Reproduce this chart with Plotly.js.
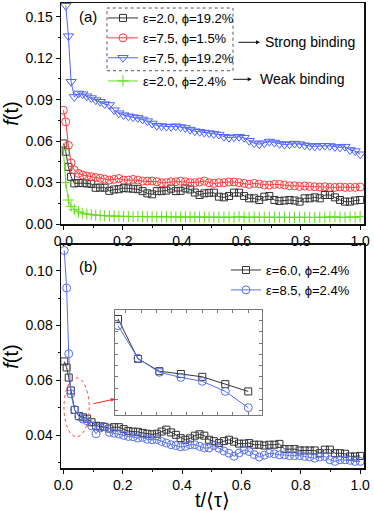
<!DOCTYPE html>
<html>
<head>
<meta charset="utf-8">
<script src="https://cdn.plot.ly/plotly-3.0.1.min.js"></script>
<style>
  html, body { margin: 0; padding: 0; background: #fff; }
  #chart-area { width: 374px; height: 511px; }
</style>
</head>
<body>
<div id="chart-area"></div>
<script>
'use strict';

// time axis, panel (a)
const tA = [0, 0.008, 0.017, 0.026, 0.037, 0.051, 0.065, 0.079, 0.094, 0.109,
    0.124, 0.139, 0.155, 0.171, 0.187, 0.203, 0.219, 0.235, 0.251, 0.267,
    0.283, 0.299, 0.315, 0.331, 0.347, 0.363, 0.379, 0.395, 0.411, 0.427,
    0.443, 0.459, 0.475, 0.491, 0.507, 0.524, 0.541, 0.558, 0.575, 0.592,
    0.609, 0.626, 0.643, 0.66, 0.677, 0.694, 0.711, 0.728, 0.745, 0.762,
    0.779, 0.796, 0.813, 0.83, 0.847, 0.864, 0.881, 0.898, 0.915, 0.932,
    0.949, 0.966, 0.983, 1.0];

// time axis, panel (b)
const tB = [0.003, 0.011, 0.018, 0.025, 0.038, 0.052, 0.066, 0.08, 0.095, 0.11,
    0.124, 0.139, 0.155, 0.171, 0.187, 0.203, 0.219, 0.235, 0.251, 0.267,
    0.283, 0.299, 0.315, 0.331, 0.347, 0.363, 0.379, 0.395, 0.411, 0.427,
    0.443, 0.459, 0.475, 0.491, 0.507, 0.524, 0.541, 0.558, 0.575, 0.592,
    0.609, 0.626, 0.643, 0.66, 0.677, 0.694, 0.711, 0.728, 0.745, 0.762,
    0.779, 0.796, 0.813, 0.83, 0.847, 0.864, 0.881, 0.898, 0.915, 0.932,
    0.949, 0.966, 0.983, 1.0];

const namesA = ["ε=2.0, ϕ=19.2%", "ε=7.5, ϕ=1.5%", "ε=7.5, ϕ=19.2%", "ε=2.0, ϕ=2.4%"];
const namesB = ["ε=6.0, ϕ=2.4%", "ε=8.5, ϕ=2.4%"];

const blkA = [0.0583, 0.0523, 0.0414, 0.0342, 0.0294, 0.0297, 0.0296, 0.0294, 0.029, 0.0262,
    0.0264, 0.0263, 0.024, 0.025, 0.0252, 0.026, 0.0258, 0.0255, 0.0252, 0.0238,
    0.0222, 0.0215, 0.0238, 0.0238, 0.0242, 0.0256, 0.0238, 0.024, 0.0258, 0.025,
    0.0228, 0.021, 0.0222, 0.0226, 0.0227, 0.0198, 0.0193, 0.0203, 0.0227, 0.0227,
    0.0203, 0.0186, 0.0186, 0.0174, 0.0198, 0.0203, 0.0174, 0.0167, 0.017, 0.0174,
    0.017, 0.0162, 0.0186, 0.0186, 0.0193, 0.0186, 0.021, 0.021, 0.0193, 0.0174,
    0.0162, 0.0162, 0.017, 0.0174];

const redA = [0.0824, 0.074, 0.057, 0.0443, 0.039, 0.0366, 0.0354, 0.0347, 0.0342, 0.0337,
    0.0332, 0.0325, 0.0318, 0.0323, 0.033, 0.0318, 0.0318, 0.0323, 0.0318, 0.0311,
    0.0311, 0.0311, 0.0306, 0.0299, 0.0299, 0.0306, 0.0306, 0.031, 0.0306, 0.0299,
    0.0299, 0.0304, 0.0311, 0.0299, 0.0294, 0.0299, 0.0299, 0.0304, 0.0304, 0.0299,
    0.0294, 0.0287, 0.0294, 0.029, 0.0282, 0.0282, 0.0287, 0.0287, 0.0282, 0.0277,
    0.0277, 0.0272, 0.0275, 0.0272, 0.027, 0.0268, 0.027, 0.0265, 0.0265, 0.0268,
    0.0265, 0.0265, 0.0265, 0.0268];

// starts at tA[1]
const bluA = [0.158, 0.136, 0.103, 0.092, 0.0945, 0.094, 0.0925, 0.0912, 0.0897,
    0.0885, 0.0868, 0.0862, 0.0824, 0.0802, 0.0788, 0.078, 0.0774, 0.0768, 0.0757,
    0.0745, 0.0728, 0.0712, 0.0709, 0.0705, 0.0704, 0.0708, 0.0702, 0.0695, 0.0683,
    0.0672, 0.0668, 0.0662, 0.0658, 0.0652, 0.0648, 0.0632, 0.0625, 0.0628, 0.0632,
    0.0624, 0.0603, 0.0585, 0.0578, 0.0585, 0.0597, 0.059, 0.058, 0.0575, 0.0578,
    0.0582, 0.0578, 0.057, 0.0565, 0.0562, 0.0566, 0.0567, 0.0565, 0.0558, 0.0555,
    0.056, 0.0536, 0.0528, 0.0505];

const grnA = [0.0535, 0.03, 0.0174, 0.0128, 0.0104, 0.0088, 0.0078, 0.0072, 0.0068, 0.0064,
    0.0062, 0.006, 0.0058, 0.0057, 0.0056, 0.0055, 0.0055, 0.0054, 0.0054, 0.0053,
    0.0053, 0.0053, 0.0052, 0.0053, 0.0052, 0.0052, 0.0051, 0.0052, 0.0051, 0.0051,
    0.005, 0.0051, 0.005, 0.005, 0.0049, 0.005, 0.0049, 0.005, 0.0049, 0.0053,
    0.0049, 0.0049, 0.005, 0.0049, 0.0048, 0.0049, 0.0049, 0.0048, 0.0049, 0.0049,
    0.0048, 0.0049, 0.0049, 0.0048, 0.0048, 0.0049, 0.0049, 0.0052, 0.0053, 0.0049,
    0.0048, 0.0052, 0.0049, 0.0054];

const blkB = [0.0669, 0.0647, 0.061, 0.0563, 0.0492, 0.047, 0.0465, 0.046, 0.0447, 0.0434,
    0.0432, 0.043, 0.0424, 0.0429, 0.0429, 0.0422, 0.0415, 0.0413, 0.0412, 0.0408,
    0.0405, 0.0403, 0.0405, 0.0413, 0.042, 0.041, 0.0401, 0.0389, 0.0383, 0.0388,
    0.0398, 0.0403, 0.0398, 0.0383, 0.0378, 0.0371, 0.0378, 0.0383, 0.0376, 0.0369,
    0.0369, 0.0371, 0.0365, 0.0365, 0.0362, 0.0365, 0.0365, 0.0368, 0.0349, 0.0349,
    0.0349, 0.0344, 0.0344, 0.0344, 0.0344, 0.0334, 0.0347, 0.0347, 0.0334, 0.0334,
    0.0332, 0.0322, 0.0322, 0.0324];

const bluB = [0.1074, 0.0937, 0.0697, 0.0551, 0.0493, 0.0468, 0.0459, 0.0452, 0.0434, 0.0405,
    0.0426, 0.0431, 0.041, 0.0407, 0.0404, 0.0399, 0.0395, 0.0394, 0.0389, 0.0392,
    0.0385, 0.0383, 0.0384, 0.0377, 0.0371, 0.0365, 0.0362, 0.0357, 0.0359, 0.0365,
    0.0365, 0.0359, 0.0353, 0.0353, 0.0362, 0.0352, 0.0342, 0.0334, 0.0323, 0.0335,
    0.0346, 0.034, 0.0329, 0.032, 0.0327, 0.0334, 0.0332, 0.0328, 0.0328, 0.0325,
    0.0325, 0.0325, 0.0322, 0.032, 0.0316, 0.032, 0.0322, 0.031, 0.0304, 0.031,
    0.031, 0.0308, 0.0304, 0.0304];

const FONT = "Liberation Sans, Arial, sans-serif";
const INSET = [3, 10]; // points of panel (b) shown in the inset

function series(x, y, name, color, symbol, size, xa, ya, legend, show) {
    return {
        x: x, y: y, name: name,
        type: "scatter", mode: "lines+markers",
        xaxis: xa, yaxis: ya,
        legend: legend, showlegend: show,
        line: { color: color, width: 1 },
        marker: { symbol: symbol, size: size, color: color, line: { color: color, width: 1 } },
        cliponaxis: true,
    };
}

function main_axis(extra) {
    return Object.assign({
        showline: true, linecolor: "#111", linewidth: 1.5, mirror: true,
        ticks: "outside", ticklen: 4, tickwidth: 1, tickcolor: "#111",
        showgrid: false, zeroline: false,
        tickfont: { family: FONT, size: 14, color: "#000" },
    }, extra);
}

function inner_ticks(extra) {
    return Object.assign({
        ticks: "inside", ticklen: 4, tickwidth: 1, tickcolor: "#111",
        showticklabels: false, showgrid: false, zeroline: false, showline: false,
    }, extra);
}

function render() {
    const s = INSET[0], e = INSET[1];
    let data = [
        series(tA, blkA, namesA[0], "#333333", "square-open", 7, "x", "y", "legend", true),
        series(tA, redA, namesA[1], "#ff3b3b", "circle-open", 8, "x", "y", "legend", true),
        series(tA.slice(1), bluA, namesA[2], "#4f63ff", "triangle-down-open", 9, "x", "y", "legend", true),
        series(tA, grnA, namesA[3], "#66dd22", "cross-thin-open", 8, "x", "y", "legend2", true),
        series(tB, blkB, namesB[0], "#333333", "square-open", 7, "x2", "y2", "legend3", true),
        series(tB, bluB, namesB[1], "#5870f0", "circle-open", 8, "x2", "y2", "legend3", true),
        series(tB.slice(s, e), blkB.slice(s, e), namesB[0], "#333333", "square-open", 7, "x3", "y3", "legend3", false),
        series(tB.slice(s, e), bluB.slice(s, e), namesB[1], "#5870f0", "circle-open", 8, "x3", "y3", "legend3", false),
    ];

    const xr = [-0.008, 1.013];
    const legend_font = { family: FONT, size: 13, color: "#000" };
    const title_font = { family: FONT, size: 20, color: "#000" };

    let layout = {
        width: 374, height: 511,
        margin: { l: 61, r: 10, t: 3, b: 43 },
        paper_bgcolor: "#fff", plot_bgcolor: "rgba(0,0,0,0)",
        font: { family: FONT, size: 14, color: "#000" },
        xaxis: main_axis({ anchor: "y", range: xr, dtick: 0.2, tick0: 0, tickformat: ".1f",
            minor: { dtick: 0.1, ticklen: 2, ticks: "outside", tickcolor: "#111" } }),
        yaxis: main_axis({ anchor: "x", domain: [0.5247, 1], range: [0, 0.16], dtick: 0.03, tick0: 0,
            tickformat: ".2f", minor: { dtick: 0.015, ticklen: 2, ticks: "outside", tickcolor: "#111" },
            title: { text: "<i>f</i>(t)", font: title_font, standoff: 5 } }),
        xaxis2: main_axis({ anchor: "y2", range: xr, dtick: 0.2, tick0: 0, tickformat: ".1f",
            minor: { dtick: 0.1, ticklen: 2, ticks: "outside", tickcolor: "#111" },
            title: { text: "t/⟨τ⟩", font: title_font, standoff: 9 } }),
        yaxis2: main_axis({ anchor: "x2", domain: [0, 0.4796], range: [0.028, 0.1094], dtick: 0.02, tick0: 0,
            tickformat: ".2f", minor: { dtick: 0.01, ticklen: 2, ticks: "outside", tickcolor: "#111" },
            title: { text: "<i>f</i>(t)", font: title_font, standoff: 5 } }),
        // inset
        xaxis3: { anchor: "y3", domain: [0.1782, 0.6634], range: [0.023, 0.119], dtick: 0.01,
            showline: true, mirror: "ticks", linecolor: "#777", linewidth: 1,
            ticks: "inside", ticklen: 3, tickcolor: "#777", showticklabels: false,
            showgrid: false, zeroline: false },
        yaxis3: { anchor: "x3", domain: [0.114, 0.3398], range: [0.0392, 0.0579], dtick: 0.002,
            showline: true, mirror: "ticks", linecolor: "#777", linewidth: 1,
            ticks: "inside", ticklen: 3, tickcolor: "#777", showticklabels: false,
            showgrid: false, zeroline: false },
        // inward ticks on top / right edges
        xaxis4: inner_ticks({ overlaying: "x", anchor: "y", side: "top", range: xr, dtick: 0.1, tick0: 0 }),
        yaxis4: inner_ticks({ overlaying: "y", anchor: "x", side: "right", range: [0, 0.16], dtick: 0.015, tick0: 0 }),
        xaxis5: inner_ticks({ overlaying: "x2", anchor: "y2", side: "top", range: xr, dtick: 0.1, tick0: 0 }),
        yaxis5: inner_ticks({ overlaying: "y2", anchor: "x2", side: "right", range: [0.028, 0.1094], dtick: 0.01, tick0: 0 }),
        legend: { x: 0.1386, y: 1.0, xanchor: "left", yanchor: "top", bgcolor: "rgba(0,0,0,0)",
            font: legend_font, itemwidth: 30, tracegroupgap: 0 },
        legend2: { x: 0.1386, y: 0.8645, xanchor: "left", yanchor: "top", bgcolor: "rgba(0,0,0,0)",
            font: legend_font, itemwidth: 30 },
        legend3: { x: 0.5446, y: 0.458, xanchor: "left", yanchor: "top", bgcolor: "rgba(0,0,0,0)",
            font: legend_font, itemwidth: 30 },
        shapes: [
            { type: "rect", xref: "paper", yref: "paper", x0: 0.1518, x1: 0.5677, y0: 0.8544, y1: 0.9892,
                line: { color: "#555", width: 1, dash: "dot" } },
            { type: "circle", xref: "x2", yref: "y2", x0: 0.002, x1: 0.087, y0: 0.0394, y1: 0.0609,
                line: { color: "#ff4040", width: 1, dash: "dot" } },
        ],
        annotations: [
            { xref: "paper", yref: "paper", x: 0.0528, y: 0.972, xanchor: "left", yanchor: "middle",
                text: "(a)", showarrow: false, font: { family: FONT, size: 15 } },
            { xref: "paper", yref: "paper", x: 0.0528, y: 0.4344, xanchor: "left", yanchor: "middle",
                text: "(b)", showarrow: false, font: { family: FONT, size: 15 } },
            { xref: "paper", yref: "paper", x: 0.6568, y: 0.9155, ax: -23, ay: 0, text: "",
                showarrow: true, arrowhead: 2, arrowsize: 0.8, arrowwidth: 1, arrowcolor: "#111" },
            { xref: "paper", yref: "paper", x: 0.6667, y: 0.9155, xanchor: "left", yanchor: "middle",
                text: "Strong binding", showarrow: false, font: { family: FONT, size: 14 } },
            { xref: "paper", yref: "paper", x: 0.6294, y: 0.8359, ax: -20, ay: 0, text: "",
                showarrow: true, arrowhead: 2, arrowsize: 0.8, arrowwidth: 1, arrowcolor: "#111" },
            { xref: "paper", yref: "paper", x: 0.6502, y: 0.8359, xanchor: "left", yanchor: "middle",
                text: "Weak binding", showarrow: false, font: { family: FONT, size: 14 } },
            { xref: "paper", yref: "paper", x: 0.1782, y: 0.1484, ax: -23, ay: 5, text: "",
                showarrow: true, arrowhead: 2, arrowsize: 0.8, arrowwidth: 1, arrowcolor: "#ff2020" },
        ],
    };
    Plotly.newPlot("chart-area", data, layout, { displayModeBar: false, staticPlot: true });
}

window.onload = render;
</script>
</body>
</html>
